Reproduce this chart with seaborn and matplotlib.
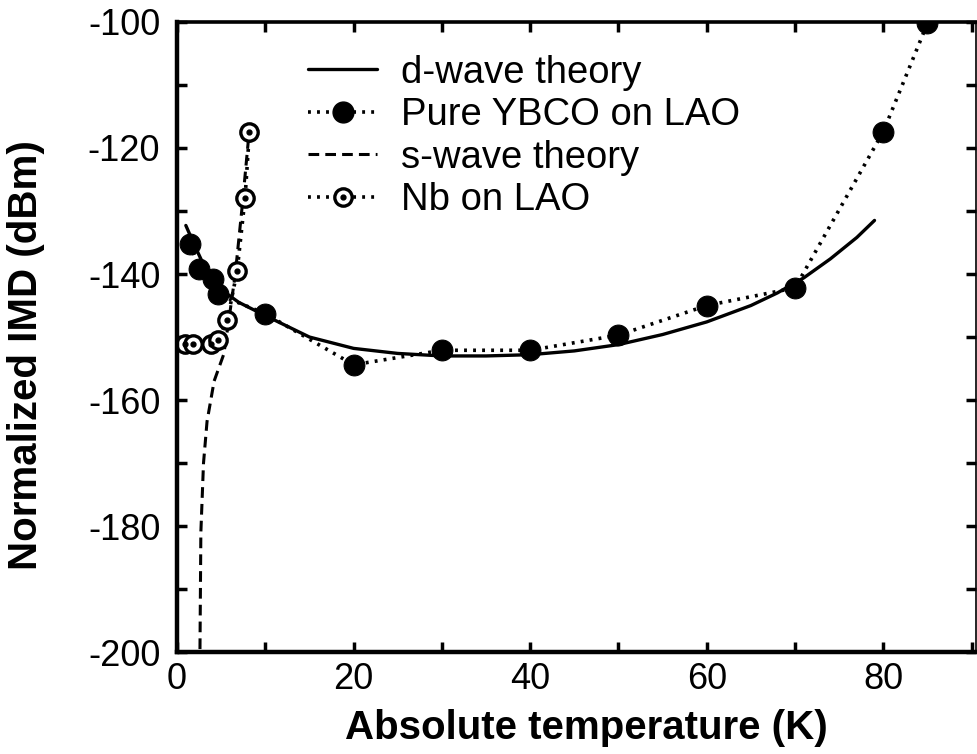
import matplotlib
matplotlib.use("Agg")
import matplotlib.pyplot as plt
import seaborn as sns
import pandas as pd
from matplotlib.legend_handler import HandlerTuple
from matplotlib.lines import Line2D

# ---- data ----
d_T = [1, 2, 3, 5, 7, 10, 15, 20, 25, 30, 35, 40, 45, 50, 55, 60, 65, 68, 71, 74, 77, 79]
d_IMD = [-132.3, -135.5, -138.5, -142.5, -144.5, -146.6, -150.0, -151.8, -152.6, -153.0,
         -153.0, -152.8, -152.2, -151.2, -149.6, -147.6, -145.0, -143.0, -140.6, -137.6,
         -134.2, -131.5]

ybco_T = [1.5, 2.5, 4.1, 4.6, 10, 20, 30, 40, 50, 60, 70, 80, 85]
ybco_IMD = [-135.2, -139.2, -140.8, -143.2, -146.3, -154.4, -152.1, -152.1, -149.7,
            -145.0, -142.2, -117.4, -100.2]

s_T = [2.6, 2.7, 3.0, 3.4, 4.2, 5.3, 5.8, 6.6, 7.4, 8.1]
s_IMD = [-199.5, -181.0, -170.0, -163.4, -157.0, -152.7, -148.0, -140.0, -129.0, -118.5]

nb_T = [0.9, 1.8, 3.8, 4.6, 5.7, 6.8, 7.7, 8.2]
nb_IMD = [-151.1, -151.1, -151.1, -150.5, -147.3, -139.6, -128.0, -117.5]

x_ticks = [0, 20, 40, 60, 80]
y_ticks = [-200, -180, -160, -140, -120, -100]

sns.set_style("ticks")
plt.rcParams['font.family'] = ['Liberation Sans', 'DejaVu Sans']
for k in ["text.color", "axes.labelcolor", "xtick.color", "ytick.color", "axes.edgecolor"]:
    plt.rcParams[k] = "black"

fig = plt.figure(figsize=(9.78, 7.54), dpi=100)
ax = fig.add_axes([0.181, 0.135, 0.817, 0.836])

df_d = pd.DataFrame({"T": d_T, "IMD": d_IMD})
df_y = pd.DataFrame({"T": ybco_T, "IMD": ybco_IMD})
df_s = pd.DataFrame({"T": s_T, "IMD": s_IMD})
df_n = pd.DataFrame({"T": nb_T, "IMD": nb_IMD})

dot = (0, (0.8, 1.7))
dash = (0, (3.5, 2.0))
sns.lineplot(data=df_d, x="T", y="IMD", ax=ax, color="black", lw=2.4,
             sort=False, estimator=None)
sns.lineplot(data=df_y, x="T", y="IMD", ax=ax, color="black", lw=2.6,
             linestyle=dot, marker="o", markersize=15, markerfacecolor="black",
             markeredgecolor="black", sort=False, estimator=None)
sns.lineplot(data=df_s, x="T", y="IMD", ax=ax, color="black", lw=2.2,
             linestyle=dash, sort=False, estimator=None)
sns.lineplot(data=df_n, x="T", y="IMD", ax=ax, color="black", lw=2.6,
             linestyle=dot, marker="o", markersize=12.5, markerfacecolor="white",
             markeredgecolor="black", markeredgewidth=2.4, sort=False, estimator=None)
ax.plot(nb_T, nb_IMD, linestyle="none", marker="o", markersize=3.5, color="black")

ax.set_xlim(0, 90.5)
ax.set_ylim(-200, -100)
ax.set_xticks(x_ticks)
ax.set_xticks(range(10, 91, 20), minor=True)
ax.set_yticks(y_ticks)
ax.set_yticks(range(-190, -100, 20), minor=True)
ax.set_xticklabels([str(t) for t in x_ticks])
ax.set_yticklabels([str(t) for t in y_ticks])
ax.tick_params(which="both", direction="in", top=True, right=True, length=7, width=2.5,
               labelsize=26, colors="black")
ax.tick_params(axis="x", pad=7)
ax.tick_params(axis="y", pad=12)

for side, w in [("left", 3.2), ("bottom", 3.2), ("top", 2.6), ("right", 1.2)]:
    ax.spines[side].set_linewidth(w)
    ax.spines[side].set_color("black")

ax.set_xlabel("Absolute temperature (K)", fontsize=29, fontweight="bold")
ax.set_ylabel("Normalized IMD (dBm)", fontsize=29, fontweight="bold")
ax.xaxis.set_label_coords(0.512, -0.090)
ax.yaxis.set_label_coords(-0.165, 0.471)

h_d = Line2D([], [], color="black", lw=2.4)
h_y = Line2D([], [], color="black", lw=2.6, linestyle=dot, marker="o", markersize=15)
h_s = Line2D([], [], color="black", lw=2.2, linestyle=dash)
h_n1 = Line2D([], [], color="black", lw=2.6, linestyle=dot, marker="o", markersize=12.5,
              markerfacecolor="white", markeredgewidth=2.4)
h_n2 = Line2D([], [], color="black", linestyle="none", marker="o", markersize=3.5)
leg = ax.legend([h_d, h_y, h_s, (h_n1, h_n2)],
                ["d-wave theory", "Pure YBCO on LAO", "s-wave theory", "Nb on LAO"],
                handler_map={tuple: HandlerTuple(ndivide=1, pad=0)},
                loc="upper left", bbox_to_anchor=(0.145, 0.972), frameon=False,
                fontsize=27.5, handlelength=1.8, handletextpad=0.62, labelspacing=0.17,
                borderaxespad=0)

fig.savefig("out.png", dpi=100)
